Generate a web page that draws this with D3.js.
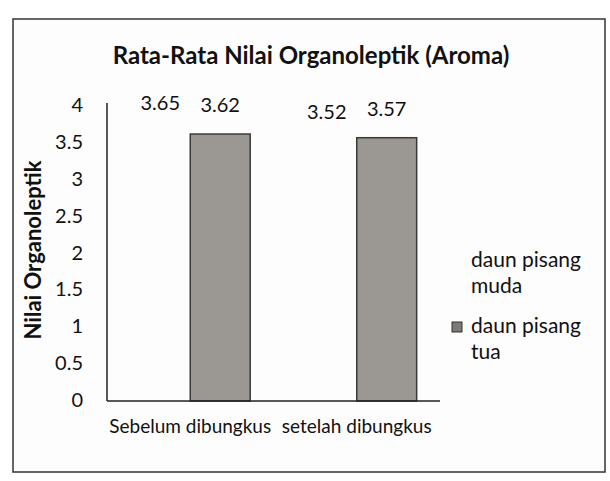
<!DOCTYPE html>
<html>
<head>
<meta charset="utf-8">
<script src="https://cdn.jsdelivr.net/npm/d3@7"></script>
<style>
  body { margin: 0; background: #fff; }
  svg { display: block; font-family: Lato, "Open Sans", sans-serif; }
</style>
</head>
<body>
<div id="chart"></div>
<script>
const categories = ["Sebelum dibungkus", "setelah dibungkus"];
const seriesNames = ["daun pisang muda", "daun pisang tua"];
const mudaValues = [3.65, 3.52];
const tuaValues = [3.62, 3.57];
const yTicks = [0, 0.5, 1, 1.5, 2, 2.5, 3, 3.5, 4];

const W = 610, H = 481;
const plot = { left: 107, right: 440, top: 106, bottom: 401 };

const svg = d3.select("#chart").append("svg")
    .attr("width", W)
    .attr("height", H);

// frame of the chart
svg.append("rect")
    .attr("x", 13).attr("y", 19)
    .attr("width", 592).attr("height", 453)
    .attr("fill", "#fdfdfd")
    .attr("stroke", "#333")
    .attr("stroke-width", 1.5);

svg.append("text")
    .attr("x", 311).attr("y", 64)
    .attr("text-anchor", "middle")
    .attr("font-size", 24)
    .attr("font-weight", "bold")
    .attr("fill", "#111")
    .text("Rata-Rata Nilai Organoleptik (Aroma)");

let y = d3.scaleLinear().domain([0, 4]).range([plot.bottom, plot.top]);
let x0 = d3.scaleBand().domain(categories).range([plot.left, plot.right]).paddingInner(0.28).paddingOuter(0.14);
let x1 = d3.scaleBand().domain(seriesNames).range([0, x0.bandwidth()]);

// y axis labels
const yAxis = svg.append("g")
    .attr("transform", "translate(" + plot.left + ",0)")
    .call(d3.axisLeft(y).tickValues(yTicks).tickSize(0).tickPadding(24).tickFormat(d => d));
yAxis.select(".domain").remove();
yAxis.selectAll("text")
    .attr("font-size", 20)
    .attr("fill", "#111")
    .attr("dy", "0.28em")
    .attr("font-family", "Lato, sans-serif");

svg.append("text")
    .attr("transform", "translate(41,250) rotate(-90)")
    .attr("text-anchor", "middle")
    .attr("font-size", 22)
    .attr("font-weight", "bold")
    .attr("fill", "#111")
    .text("Nilai Organoleptik");

const rows = categories.map((c, i) => ({ cat: c, values: [mudaValues[i], tuaValues[i]] }));

const group = svg.selectAll(".grp")
    .data(rows)
    .enter()
    .append("g")
    .attr("class", "grp")
    .attr("transform", d => "translate(" + x0(d.cat) + ",0)");

// bars (muda is white / invisible, tua grey)
group.selectAll("rect")
    .data(d => d.values.map((v, i) => ({ name: seriesNames[i], value: v })))
    .enter()
    .append("rect")
    .attr("x", d => x1(d.name))
    .attr("y", d => y(d.value))
    .attr("width", x1.bandwidth())
    .attr("height", d => y(0) - y(d.value))
    .attr("fill", d => d.name === seriesNames[1] ? "#9b9793" : "none")
    .attr("stroke", d => d.name === seriesNames[1] ? "#3a3a3a" : "none")
    .attr("stroke-width", 1.5);

group.selectAll(".lbl")
    .data(d => d.values.map((v, i) => ({ name: seriesNames[i], value: v })))
    .enter()
    .append("text")
    .attr("class", "lbl")
    .attr("x", d => x1(d.name) + x1.bandwidth() / 2)
    .attr("y", d => y(d.value) - 22)
    .attr("text-anchor", "middle")
    .attr("font-size", 20)
    .attr("fill", "#111")
    .text(d => d.value.toFixed(2));

// axis lines
svg.append("line")
    .attr("x1", plot.left).attr("x2", plot.left)
    .attr("y1", plot.top - 3).attr("y2", plot.bottom)
    .attr("stroke", "#222").attr("stroke-width", 1.5);
svg.append("line")
    .attr("x1", plot.left).attr("x2", plot.right)
    .attr("y1", plot.bottom).attr("y2", plot.bottom)
    .attr("stroke", "#222").attr("stroke-width", 1.5);

svg.selectAll(".cat")
    .data(categories)
    .enter()
    .append("text")
    .attr("class", "cat")
    .attr("x", d => x0(d) + x0.bandwidth() / 2)
    .attr("y", 433)
    .attr("text-anchor", "middle")
    .attr("font-size", 19)
    .attr("fill", "#111")
    .text(d => d);

// legend
const legend = svg.append("g").attr("transform", "translate(471,0)");
const legendLines = [["daun pisang", "muda"], ["daun pisang", "tua"]];
legendLines.forEach((lines, i) => {
    let top = 267 + i * 66;
    if (i === 1) {
        legend.append("rect")
            .attr("x", -19).attr("y", top - 11)
            .attr("width", 10).attr("height", 10)
            .attr("fill", "#7d7975")
            .attr("stroke", "#333");
    }
    lines.forEach((t, j) => {
        legend.append("text")
            .attr("x", 0).attr("y", top + j * 26)
            .attr("font-size", 21)
            .attr("fill", "#111")
            .text(t);
    });
});
</script>
</body>
</html>
